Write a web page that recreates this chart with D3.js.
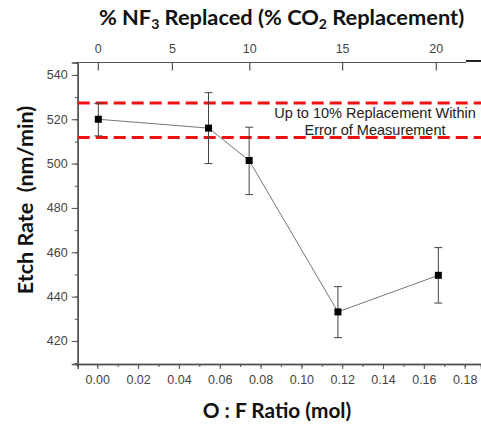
<!DOCTYPE html>
<html>
<head>
<meta charset="utf-8">
<script src="https://cdn.jsdelivr.net/npm/d3@7"></script>
<style>
  body { margin: 0; background: #fff; }
  svg { display: block; }
  .tick text { font-family: Arial, "Liberation Sans", sans-serif; fill: #444; }
  .title { font-family: Lato, "Open Sans", sans-serif; font-weight: bold; fill: #111; }
</style>
</head>
<body>
<svg width="481" height="426"></svg>
<script>
const svg = d3.select("svg");

// O:F ratio (mol) and etch rate (nm/min) with error
const ratio = [0.0005, 0.0545, 0.0744, 0.1179, 0.1671];
const etchRate = [520, 516, 501.4, 433.1, 449.6];
const errTop = [527.2, 532, 516.4, 444.5, 462.1];
const errBottom = [512.5, 500, 486, 421.5, 437.1];

// error-of-measurement band (red dashed)
const bandLevels = [527.3, 511.8];
const bandText = ["Up to 10% Replacement Within", "Error of Measurement"];

// top axis: % NF3 replaced, placed at matching O:F ratio
const topTickLabels = [0, 5, 10, 15, 20];
const topTickRatio = [0.0005, 0.0368, 0.0747, 0.1202, 0.1661];

const bottomTicks = [0, 0.02, 0.04, 0.06, 0.08, 0.10, 0.12, 0.14, 0.16, 0.18];
const yTicks = [420, 440, 460, 480, 500, 520, 540];

const x = d3.scaleLinear().domain([-0.0096, 0.188]).range([77.7, 481]);
const y = d3.scaleLinear().domain([409.6, 545.6]).range([364, 62.5]);

const axisColor = "#555";

// bottom axis
const gx = svg.append("g").attr("transform", `translate(0,${y.range()[0]})`);
gx.call(d3.axisBottom(x).tickValues(d3.range(-0.01, 0.1901, 0.01)).tickSize(3).tickFormat(""));
gx.append("g").call(d3.axisBottom(x).tickValues(bottomTicks).tickSize(5).tickPadding(6).tickFormat(d3.format(".2f")));
gx.selectAll(".domain").attr("stroke", axisColor).attr("stroke-width", 1.5);
gx.selectAll(".tick line").attr("stroke", axisColor);
gx.selectAll(".tick text").attr("font-size", 12.5);

// left axis
const gy = svg.append("g").attr("transform", `translate(${x.range()[0]},0)`);
gy.call(d3.axisLeft(y).tickValues(d3.range(410, 546, 10)).tickSize(3).tickFormat(""));
gy.append("g").call(d3.axisLeft(y).tickValues(yTicks).tickSize(6).tickPadding(4));
gy.selectAll(".domain").attr("stroke", axisColor).attr("stroke-width", 1.5);
gy.selectAll(".tick line").attr("stroke", axisColor);
gy.selectAll(".tick text").attr("font-size", 12.5);

// top axis
const topScale = d3.scaleOrdinal().domain(topTickLabels).range(topTickRatio.map(x));
const gt = svg.append("g").attr("transform", `translate(0,${y.range()[1]})`);
gt.append("line").attr("x1", x.range()[0] - 2).attr("x2", 466)
  .attr("stroke", axisColor).attr("stroke-width", 1.2);
gt.append("line").attr("x1", 466).attr("x2", 481).attr("y1", -1.5).attr("y2", -1.5)
  .attr("stroke", "#222").attr("stroke-width", 2);
const tt = gt.selectAll(".tick").data(topTickLabels).join("g")
  .attr("class", "tick")
  .attr("transform", d => `translate(${topScale(d)},0)`);
tt.append("line").attr("y2", 8).attr("stroke", axisColor).attr("stroke-width", 1.2);
tt.append("text").attr("y", -10).attr("text-anchor", "middle").attr("font-size", 12.5).text(d => d);

// red dashed band
svg.append("g").selectAll("line").data(bandLevels).join("line")
  .attr("x1", x.range()[0]).attr("x2", 481)
  .attr("y1", d => y(d)).attr("y2", d => y(d))
  .attr("stroke", "#f01010").attr("stroke-width", 3)
  .attr("stroke-dasharray", "12,6");

svg.append("g").selectAll("text").data(bandText).join("text")
  .attr("x", 375).attr("y", (d, i) => 118 + i * 17)
  .attr("text-anchor", "middle")
  .attr("font-family", "Arial, 'Liberation Sans', sans-serif")
  .attr("font-size", 14.5).attr("fill", "#222")
  .text(d => d);

// connecting line
svg.append("path")
  .datum(ratio.map((r, i) => [r, etchRate[i]]))
  .attr("fill", "none").attr("stroke", "#666").attr("stroke-width", 0.9)
  .attr("d", d3.line().x(d => x(d[0])).y(d => y(d[1])));

// error bars
const eb = svg.append("g").selectAll("g").data(ratio).join("g")
  .attr("stroke", "#444").attr("stroke-width", 1);
eb.append("line")
  .attr("x1", d => x(d)).attr("x2", d => x(d))
  .attr("y1", (d, i) => y(errTop[i])).attr("y2", (d, i) => y(errBottom[i]));
eb.append("line")
  .attr("x1", d => x(d) - 4).attr("x2", d => x(d) + 4)
  .attr("y1", (d, i) => y(errTop[i])).attr("y2", (d, i) => y(errTop[i]));
eb.append("line")
  .attr("x1", d => x(d) - 4).attr("x2", d => x(d) + 4)
  .attr("y1", (d, i) => y(errBottom[i])).attr("y2", (d, i) => y(errBottom[i]));

// markers
svg.append("g").selectAll("rect").data(ratio).join("rect")
  .attr("x", d => x(d) - 3.5).attr("y", (d, i) => y(etchRate[i]) - 3.5)
  .attr("width", 7).attr("height", 7).attr("fill", "#000");

// titles
const topTitle = svg.append("text").attr("class", "title")
  .attr("x", 281.5).attr("y", 25).attr("text-anchor", "middle").attr("font-size", 21.8);
topTitle.append("tspan").text("% NF");
topTitle.append("tspan").attr("font-size", 14).attr("dy", 4).text("3");
topTitle.append("tspan").attr("dy", -4).text(" Replaced (% CO");
topTitle.append("tspan").attr("font-size", 14).attr("dy", 4).text("2");
topTitle.append("tspan").attr("dy", -4).text(" Replacement)");

svg.append("text").attr("class", "title")
  .attr("x", 277).attr("y", 418).attr("text-anchor", "middle").attr("font-size", 20.8)
  .text("O : F Ratio (mol)");

svg.append("text").attr("class", "title")
  .attr("transform", "translate(33,200) rotate(-90)")
  .attr("text-anchor", "middle").attr("font-size", 21.5)
  .attr("xml:space", "preserve")
  .text("Etch Rate  (nm/min)");
</script>
</body>
</html>
